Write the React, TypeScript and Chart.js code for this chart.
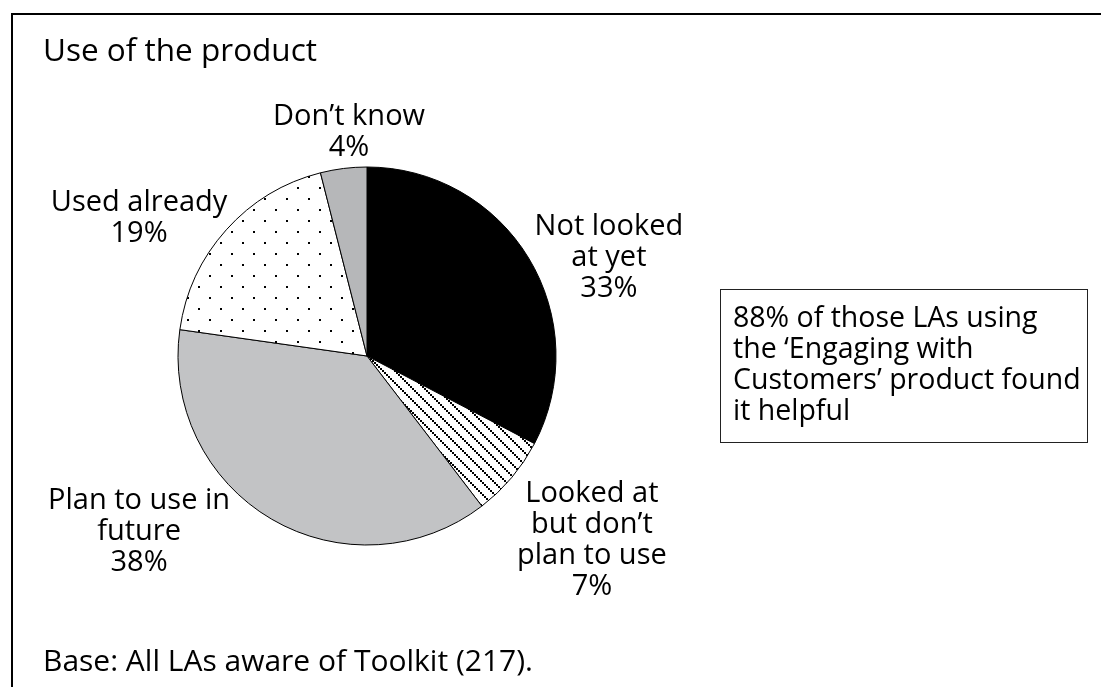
import React, { useEffect, useRef } from "react";
import { Chart, registerables } from "chart.js";

Chart.register(...registerables);

// ---- data ----
const categories = [
  "Not looked at yet",
  "Looked at but don't plan to use",
  "Plan to use in future",
  "Used already",
  "Don't know",
];
const values = [33, 7, 38, 19, 4];
const labelLines = [
  ["Not looked", "at yet"],
  ["Looked at", "but don\u2019t", "plan to use"],
  ["Plan to use in", "future"],
  ["Used already"],
  ["Don\u2019t know"],
];
const titleText = "Use of the product";
const baseNote = "Base: All LAs aware of Toolkit (217).";
const calloutLines = [
  "88% of those LAs using",
  "the \u2018Engaging with",
  "Customers\u2019 product found",
  "it helpful",
];

// ---- layout (in units of the pie radius, relative to pie centre) ----
const labelAnchors = [
  { dx: 1.28, dy: -0.64 },
  { dx: 1.19, dy: 0.772 },
  { dx: -1.206, dy: 0.81 },
  { dx: -1.206, dy: -0.767 },
  { dx: -0.095, dy: -1.222 },
];

const FONT = "'Open Sans', 'Noto Sans', sans-serif";
const LABEL_FS = 29;
const LH = 31;

function dotPattern(): CanvasPattern | string {
  const c = document.createElement("canvas");
  c.width = 22;
  c.height = 22;
  const g = c.getContext("2d")!;
  g.fillStyle = "#fff";
  g.fillRect(0, 0, 22, 22);
  g.fillStyle = "#000";
  g.fillRect(0, 0, 2, 2);
  g.fillRect(11, 11, 2, 2);
  return g.createPattern(c, "repeat") || "#fff";
}

function hatchPattern(): CanvasPattern | string {
  const c = document.createElement("canvas");
  c.width = 12;
  c.height = 12;
  const g = c.getContext("2d")!;
  g.fillStyle = "#fff";
  g.fillRect(0, 0, 12, 12);
  g.fillStyle = "#000";
  for (let i = 0; i < 12; i += 2) g.fillRect(i, i, 2, 2);
  return g.createPattern(c, "repeat") || "#fff";
}

const decorPlugin = {
  id: "decor",
  afterDatasetsDraw(chart: any) {
    const ctx: CanvasRenderingContext2D = chart.ctx;
    const meta = chart.getDatasetMeta(0);
    ctx.save();
    ctx.fillStyle = "#000";
    ctx.textBaseline = "alphabetic";
    ctx.font = `${LABEL_FS}px ${FONT}`;
    meta.data.forEach((arc: any, i: number) => {
      const { x, y, outerRadius } = arc.getProps(["x", "y", "outerRadius"], true);
      const a = labelAnchors[i];
      const cx = x + a.dx * outerRadius;
      let by = y + a.dy * outerRadius;
      const lines = [...labelLines[i], `${values[i]}%`];
      ctx.textAlign = "center";
      lines.forEach((t) => {
        ctx.fillText(t, cx, by);
        by += LH;
      });
    });

    // frame
    ctx.fillStyle = "#000";
    ctx.fillRect(11, 13, chart.width - 11, 2);
    ctx.fillRect(11, 13, 2, chart.height - 13);

    // title & base note
    ctx.textAlign = "left";
    ctx.font = `31.5px ${FONT}`;
    ctx.fillText(titleText, 43, 61);
    ctx.font = `30px ${FONT}`;
    ctx.fillText(baseNote, 43, 671);

    // callout
    ctx.strokeStyle = "#222";
    ctx.lineWidth = 1;
    ctx.strokeRect(720.5, 289.5, 367, 153);
    ctx.font = `28.5px ${FONT}`;
    let cy = 327;
    calloutLines.forEach((t) => {
      ctx.fillText(t, 733, cy);
      cy += LH;
    });
    ctx.restore();
  },
};

export default function App() {
  const ref = useRef<HTMLCanvasElement>(null);
  useEffect(() => {
    document.body.style.margin = "0";
    const canvas = ref.current!;
    const chart = new Chart(canvas, {
      type: "pie",
      data: {
        labels: categories,
        datasets: [
          {
            data: values,
            backgroundColor: [
              "#000000",
              hatchPattern(),
              "#c2c3c5",
              dotPattern(),
              "#b6b7b9",
            ],
            borderColor: "#000",
            borderWidth: 1,
          },
        ],
      },
      options: {
        animation: false,
        responsive: false,
        rotation: 0,
        layout: {
          padding: { left: 177.5, top: 166.5, right: 544.5, bottom: 141.5 },
        },
        plugins: {
          legend: { display: false },
          tooltip: { enabled: false },
          title: { display: false },
        },
      },
      plugins: [decorPlugin],
    });
    return () => chart.destroy();
  }, []);
  return (
    <div style={{ width: 1101, height: 687, background: "#fff" }}>
      <canvas ref={ref} width={1101} height={687} style={{ display: "block" }} />
    </div>
  );
}
